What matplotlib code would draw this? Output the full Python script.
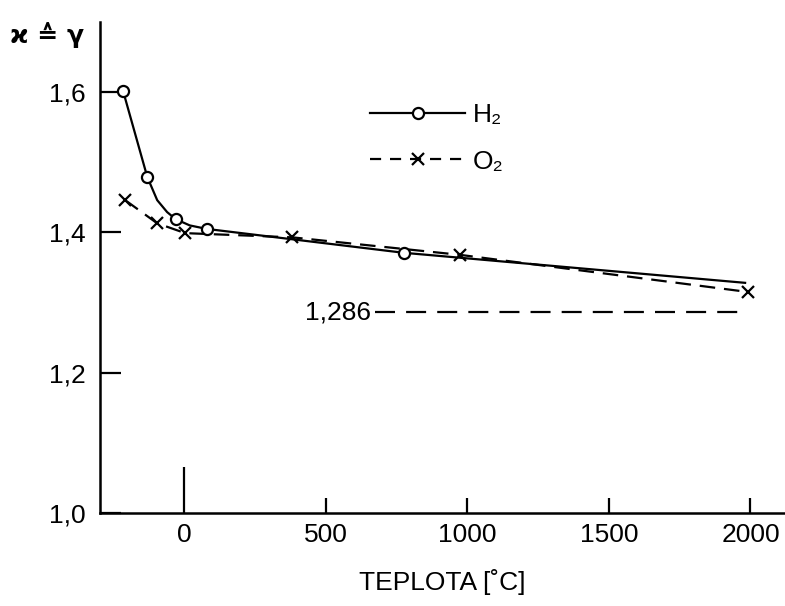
import matplotlib
matplotlib.use("Agg")
import matplotlib.pyplot as plt
from matplotlib.lines import Line2D

# ---- data ----
h2_temp = [-215, -130, -95, -60, -30, 20, 80, 775, 1985]
h2_gamma = [1.601, 1.479, 1.446, 1.429, 1.419, 1.410, 1.405, 1.371, 1.328]
h2_marker_temp = [-215, -130, -30, 80, 775]
h2_marker_gamma = [1.601, 1.479, 1.419, 1.405, 1.371]

o2_temp = [-208, -95, 4, 382, 975, 1993]
o2_gamma = [1.446, 1.413, 1.399, 1.393, 1.368, 1.315]

limit_value = 1.286
limit_temp = [675, 1993]
limit_label = "1,286"

x_ticks = [0, 500, 1000, 1500, 2000]
y_ticks = [1.0, 1.2, 1.4, 1.6]
y_tick_labels = ["1,0", "1,2", "1,4", "1,6"]

plt.rcParams['font.family'] = ['Liberation Sans', 'DejaVu Sans']

FS = 19

fig = plt.figure(figsize=(7.85, 6.06), dpi=100)
ax = fig.add_axes([100/785, (606-513)/606, 685/785, (513-22)/606])

ax.set_xlim(-297, 2122)
ax.set_ylim(1.0, 1.70)

lw = 1.6
# H2 curve
ax.plot(h2_temp, h2_gamma, color='black', lw=lw, solid_capstyle='butt')
ax.plot(h2_marker_temp, h2_marker_gamma, ls='none', marker='o', ms=8,
        mfc='white', mec='black', mew=1.6)
# O2 curve
ax.plot(o2_temp, o2_gamma, color='black', lw=lw, ls=(0, (7, 4)))
ax.plot(o2_temp, o2_gamma, ls='none', marker='x', ms=9, mec='black', mew=1.6)

# 1,286 limit
ax.plot(limit_temp, [limit_value, limit_value], color='black', lw=lw, ls=(0, (9, 5)))
ax.text(limit_temp[0] - 15, limit_value, limit_label, ha='right', va='center',
        fontsize=FS)

# axes styling
for s in ['top', 'right']:
    ax.spines[s].set_visible(False)
for s in ['left', 'bottom']:
    ax.spines[s].set_linewidth(1.8)

ax.set_xticks(x_ticks)
ax.set_xticklabels([str(t) for t in x_ticks], fontsize=FS)
ax.set_yticks(y_ticks)
ax.set_yticklabels(y_tick_labels, fontsize=FS)
ax.tick_params(axis='x', direction='in', length=11, width=1.6, pad=7)
ax.tick_params(axis='y', direction='in', length=15, width=1.6, pad=10)
# taller tick at 0
for t in ax.xaxis.get_major_ticks():
    if t.get_loc() == 0:
        t.tick1line.set_markersize(33)

ax.set_xlabel("TEPLOTA [˚C]", fontsize=FS, labelpad=16)

fig.text(10/785, 1-35/606, "ϰ ≙ γ", fontsize=18, fontweight='bold',
         ha='left', va='center', family=['DejaVu Sans'])

# legend
handles = [
    Line2D([], [], color='black', lw=lw, marker='o', ms=8, mfc='white', mec='black', mew=1.6),
    Line2D([], [], color='black', lw=lw, ls=(0, (5, 4)), marker='x', ms=9, mec='black', mew=1.6),
]
leg = ax.legend(handles, ["H₂", "O₂"], loc='upper left',
                bbox_to_anchor=(357/785, 1-90/606), bbox_transform=fig.transFigure,
                frameon=False, fontsize=FS, handlelength=3.6, handletextpad=0.3,
                labelspacing=0.85, borderpad=0, numpoints=1)

fig.savefig("out.png", dpi=100)
